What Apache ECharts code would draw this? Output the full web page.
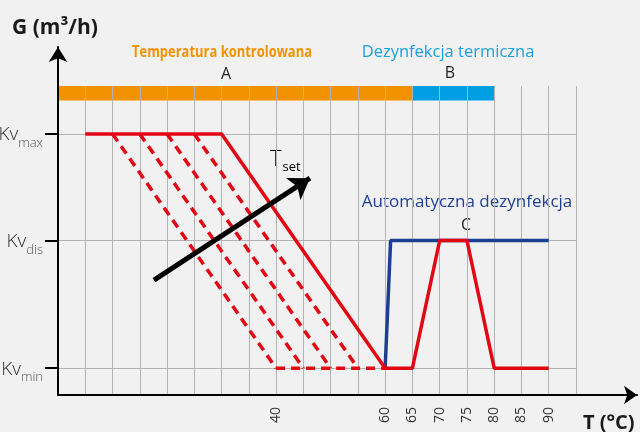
<!DOCTYPE html>
<html lang="pl">
<head>
    <meta charset="UTF-8">
    <style>
        html, body { margin: 0; padding: 0; background: #f1f1f1; }
        #main { width: 640px; height: 432px; }
    </style>
    <title>Kv - T</title>
</head>
<body>
<div id="main"></div>
<script src="https://cdn.jsdelivr.net/npm/echarts@6/dist/echarts.min.js"></script>
<script>
    // poziomy Kv na osi G
    var kvNames = ['min', 'dis', 'max'];
    var kvLevels = [0.52, 3, 5.07];
    // etykiety osi T
    var tLabels = [40, 60, 65, 70, 75, 80, 85, 90];
    // strefy na pasku u gory: nazwa, od, do
    var zoneNames = ['A', 'B'];
    var zoneFrom = [0, 65];
    var zoneTo = [65, 80];
    var zoneColors = ['#f39200', '#009fe3'];
    // krzywa glowna (czerwona)
    var redT = [5, 30, 60, 65, 70, 75, 80, 90];
    var redG = [5.07, 5.07, 0.52, 0.52, 3, 3, 0.52, 0.52];
    // automatyczna dezynfekcja (niebieska)
    var blueT = [60, 61, 90];
    var blueG = [0.52, 3, 3];
    // linie przerywane: T na gorze -> T na dole
    var dashTop = [10, 15, 20, 25];
    var dashBottom = [40, 45, 50, 55];
    var dashFloorT = [40, 60];
    // strzalka Tset
    var arrowT = [17.6, 46.2];
    var arrowG = [2.23, 4.21];

    function pairs(xs, ys) {
        return xs.map(function (x, i) { return [x, ys[i]]; });
    }

    var myChart = echarts.init(document.getElementById('main'));

    var dashStyle = { color: '#e30613', width: 3.5, type: [9, 6] };
    var dashedSeries = dashTop.map(function (t, i) {
        return {
            type: 'line', xAxisIndex: 0, yAxisIndex: 0, symbol: 'none', z: 3,
            data: [[t, kvLevels[2]], [dashBottom[i], kvLevels[0]]],
            lineStyle: dashStyle
        };
    });
    dashedSeries.push({
        type: 'line', xAxisIndex: 0, yAxisIndex: 0, symbol: 'none', z: 3,
        data: [[dashFloorT[0], kvLevels[0]], [dashFloorT[1], kvLevels[0]]],
        lineStyle: dashStyle
    });

    var option = {
        backgroundColor: '#f1f1f1',
        animation: false,
        grid: [
            { left: 58, right: 64, top: 86, bottom: 37, show: false, outerBoundsMode: 'none' },
            { left: 58, right: 3, top: 47, bottom: 37, show: false, outerBoundsMode: 'none' }
        ],
        xAxis: [{
            type: 'value', gridIndex: 0, min: 0, max: 95, interval: 5,
            axisLine: { show: false },
            axisTick: { show: false },
            splitLine: { show: true, lineStyle: { color: '#b3b3b3', width: 1 } },
            axisLabel: {
                customValues: tLabels, rotate: 90, margin: 12,
                fontFamily: 'Open Sans', fontSize: 14, color: '#333'
            }
        }, {
            type: 'value', gridIndex: 1, min: 0, max: 1,
            axisLine: { show: true, symbol: ['none', 'arrow'], symbolSize: [14, 13],
                lineStyle: { color: '#000', width: 2 } },
            axisTick: { show: false }, axisLabel: { show: false }, splitLine: { show: false }
        }],
        yAxis: [{
            type: 'value', gridIndex: 0, min: 0, max: 6, interval: 1,
            axisLine: { show: false },
            axisTick: { show: true, customValues: kvLevels, length: 13,
                lineStyle: { color: '#000', width: 2 } },
            splitLine: { show: true, lineStyle: { color: '#b3b3b3', width: 1 } },
            axisLabel: {
                customValues: kvLevels, margin: 15,
                formatter: function (v) {
                    var i = kvLevels.indexOf(v);
                    return '{a|Kv}{b|' + kvNames[i] + '}';
                },
                rich: {
                    a: { fontFamily: 'Open Sans', fontSize: 19, fontWeight: 300, color: '#333', padding: [2, 0, 0, 0] },
                    b: { fontFamily: 'Open Sans', fontSize: 13, fontWeight: 300, color: '#555', padding: [19, 0, 0, 0] }
                }
            }
        }, {
            type: 'value', gridIndex: 1, min: 0, max: 1,
            axisLine: { show: true, symbol: ['none', 'arrow'], symbolSize: [14, 15],
                lineStyle: { color: '#000', width: 2 } },
            axisTick: { show: false }, axisLabel: { show: false }, splitLine: { show: false }
        }],
        series: [{
            type: 'custom', xAxisIndex: 0, yAxisIndex: 0, z: -1, silent: true,
            data: zoneNames.map(function (n, i) { return [zoneFrom[i], zoneTo[i], i]; }),
            renderItem: function (params, api) {
                var p0 = api.coord([api.value(0), 6]);
                var p1 = api.coord([api.value(1), 5.72]);
                return {
                    type: 'rect',
                    shape: { x: p0[0], y: p0[1], width: p1[0] - p0[0], height: p1[1] - p0[1] },
                    style: { fill: zoneColors[api.value(2)] }
                };
            }
        }, {
            type: 'line', xAxisIndex: 0, yAxisIndex: 0, symbol: 'none', z: 4,
            data: pairs(blueT, blueG),
            lineStyle: { color: '#1d3f92', width: 3.5 }
        }, {
            type: 'line', xAxisIndex: 0, yAxisIndex: 0, symbol: 'none', z: 5,
            data: pairs(redT, redG),
            lineStyle: { color: '#e30613', width: 3.5 }
        }].concat(dashedSeries).concat([{
            type: 'lines', coordinateSystem: 'cartesian2d', xAxisIndex: 0, yAxisIndex: 0, z: 6,
            symbol: ['none', 'arrow'], symbolSize: 20,
            data: [{ coords: pairs(arrowT, arrowG) }],
            lineStyle: { color: '#000', width: 5, opacity: 1 }
        }]),
        graphic: [
            { type: 'text', x: 12, y: 28, style: { text: 'G (m³/h)', font: 'bold 21px "Open Sans"', fill: '#1a1a1a', verticalAlign: 'middle' } },
            { type: 'text', x: 583, y: 423, style: { text: 'T (°C)', font: 'bold 20px "Open Sans"', fill: '#1a1a1a', verticalAlign: 'middle' } },
            { type: 'text', x: 222, y: 52, scaleX: 0.81, style: { text: 'Temperatura kontrolowana', font: 'bold 16px "Open Sans"', fill: '#f39200', align: 'center', verticalAlign: 'middle' } },
            { type: 'text', x: 226, y: 74, style: { text: 'A', font: '16px "Open Sans"', fill: '#222', align: 'center', verticalAlign: 'middle' } },
            { type: 'text', x: 448, y: 52, style: { text: 'Dezynfekcja termiczna', font: '16.5px "Open Sans"', fill: '#1aa0e0', align: 'center', verticalAlign: 'middle' } },
            { type: 'text', x: 450, y: 73, style: { text: 'B', font: '16px "Open Sans"', fill: '#222', align: 'center', verticalAlign: 'middle' } },
            { type: 'text', x: 467, y: 202, style: { text: 'Automatyczna dezynfekcja', font: '17px "Open Sans"', fill: '#1f3f95', align: 'center', verticalAlign: 'middle' } },
            { type: 'text', x: 466, y: 225, style: { text: 'C', font: '16px "Open Sans"', fill: '#222', align: 'center', verticalAlign: 'middle' } },
            { type: 'text', x: 270, y: 160, style: {
                text: '{a|T}{b|set}', verticalAlign: 'middle',
                rich: {
                    a: { fontFamily: 'Open Sans', fontSize: 22, fontWeight: 300, color: '#444' },
                    b: { fontFamily: 'Open Sans', fontSize: 13, color: '#555', padding: [14, 0, 0, 1] }
                }
            } }
        ]
    };

    myChart.setOption(option);
</script>
</body>
</html>
